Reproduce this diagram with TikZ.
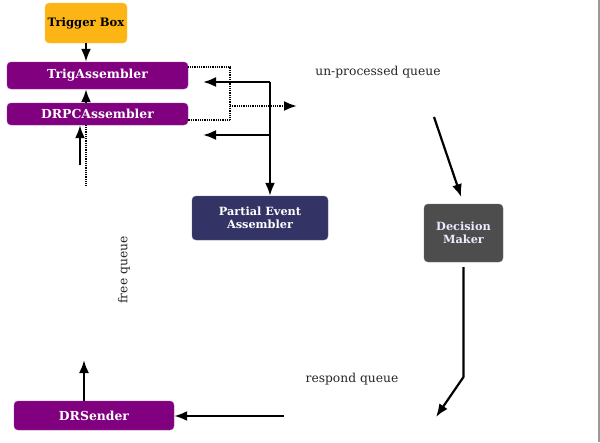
\documentclass[tikz,border=0pt]{standalone}
\usepackage{fontspec}
\setmainfont{DejaVu Serif}
\usetikzlibrary{arrows.meta}
\definecolor{tbOrange}{HTML}{FDB515}
\definecolor{tbPurple}{HTML}{800080}
\definecolor{tbNavy}{HTML}{333366}
\definecolor{tbGray}{HTML}{4D4D4D}
\tikzset{
  box/.style={rounded corners=4pt, inner sep=0pt, align=center, font=\bfseries\fontsize{11.3}{13.5}\selectfont},
  purplebox/.style={box, fill=tbPurple, draw=tbPurple!80!white, text=white, font=\bfseries\fontsize{12.4}{14}\selectfont},
  arr/.style={line width=2.2pt, -{Latex[length=13pt,width=10pt]}},
  dotline/.style={line width=2.2pt, dash pattern=on 1pt off 0.8pt},
  dotarr/.style={dotline, -{Latex[length=13pt,width=10pt]}},
  lbl/.style={font=\fontsize{12.3}{14}\selectfont, text=black!85}
}
\begin{document}
\begin{tikzpicture}[x=1pt,y=-1pt]
\useasboundingbox (0,0) rectangle (600,442);
\draw[gray!80, line width=1.2pt] (599,0) -- (599,442);
% nodes
\node[box, fill=tbOrange, draw=tbOrange!70!white, text=black, font=\bfseries\fontsize{11.6}{13}\selectfont, minimum width=82pt, minimum height=40pt] (tb) at (86,23) {Trigger Box};
\node[purplebox, minimum width=181pt, minimum height=27pt] (trig) at (97.5,75.5) {TrigAssembler};
\node[purplebox, minimum width=181pt, minimum height=22pt] (drpc) at (97.5,114) {DRPCAssembler};
\node[box, fill=tbNavy, draw=tbNavy!80!white, text=white, minimum width=136pt, minimum height=44pt] (pea) at (260,218) {Partial Event\\Assembler};
\node[box, fill=tbGray, draw=tbGray!80!white, text=blue!8!white, minimum width=79pt, minimum height=58pt] (dm) at (463.5,233) {Decision\\Maker};
\node[purplebox, minimum width=160pt, minimum height=29pt] (ds) at (94,415.5) {DRSender};
% labels
\node[lbl] (uq) at (378,72) {un-processed queue};
\node[lbl] (rq) at (352,379) {respond queue};
\node[lbl, rotate=90] (fq) at (124,270) {free queue};
% coordinates
\coordinate (in1) at (80,165);
\coordinate (fq1) at (86,185);
\coordinate (jx) at (230,90);
\coordinate (jn) at (230,106);
\coordinate (uqend) at (297,106);
\coordinate (sp) at (270,82);
\coordinate (la1) at (203,82);
\coordinate (la2) at (203,135);
\coordinate (uq2) at (434,117);
\coordinate (bend) at (463.5,377);
\coordinate (rqend) at (436,417);
\coordinate (rq2) at (284,416);
\coordinate (fq2) at (84,360);
% connectors
\draw[arr] (tb.south) -- (tb.south |- trig.north);
\draw[arr] (tb.south |- drpc.north) -- (tb.south |- trig.south);
\draw[arr] (in1) -- (in1 |- drpc.south);
\draw[dotline] (fq1 |- drpc.south) -- (fq1);
\draw[dotline] ([yshift=-5pt]trig.north east) -| (jx) |- ([yshift=5pt]drpc.south east);
\draw[dotarr] (jn) -- (uqend);
\draw[arr] (sp) -- (la1);
\draw[arr] (sp) -- (sp |- pea.north);
\draw[arr] (sp |- la2) -- (la2);
\draw[arr, shorten >=7pt] (uq2) -- (dm.north);
\draw[arr, shorten <=5pt] (dm.south) -- (bend) -- (rqend);
\draw[arr] (rq2) -- (rq2 -| ds.east);
\draw[arr] (fq2 |- ds.north) -- (fq2);
\end{tikzpicture}
\end{document}
